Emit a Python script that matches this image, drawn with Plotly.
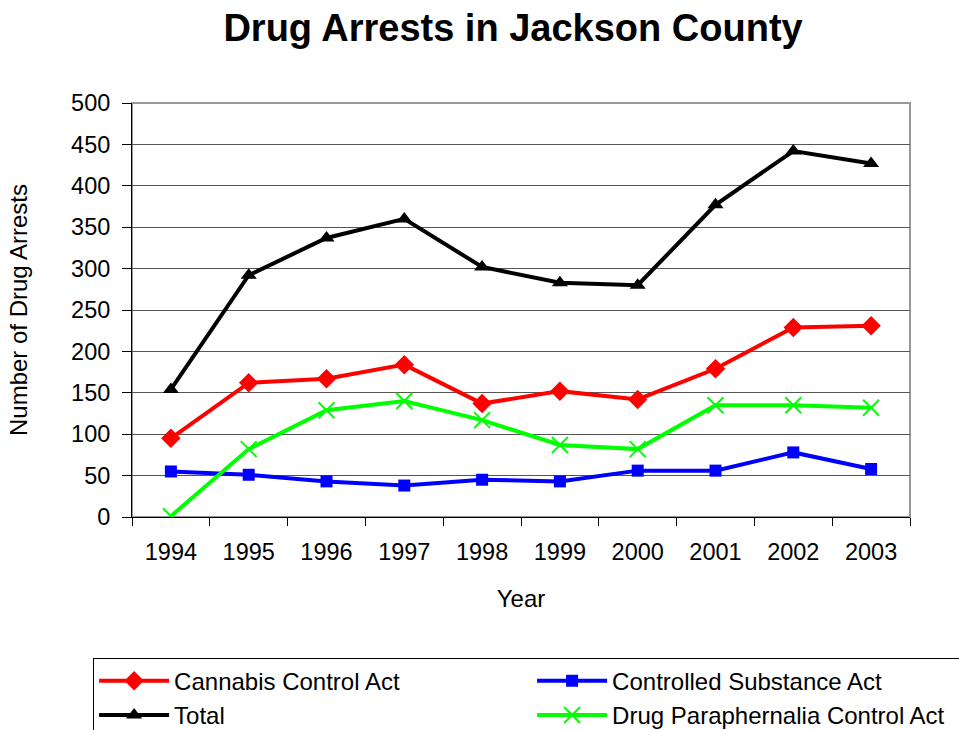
import plotly.graph_objects as go

# Drug arrests by year and statute, Jackson County
years = ["1994", "1995", "1996", "1997", "1998", "1999", "2000", "2001", "2002", "2003"]
cannabis = [95, 162, 167, 184, 137, 152, 142, 179, 229, 231]
controlled = [55, 51, 43, 38, 45, 43, 56, 56, 78, 58]
total = [154, 292, 337, 360, 302, 283, 280, 377, 442, 427]
paraphernalia = [1, 82, 129, 140, 117, 87, 82, 135, 135, 132]

FONT = "Arial, Liberation Sans, sans-serif"

fig = go.Figure()
fig.add_trace(go.Scatter(
    x=years, y=cannabis, name="Cannabis Control Act", mode="lines+markers",
    line=dict(color="#FF0000", width=4),
    marker=dict(symbol="diamond", size=15, color="#FF0000"),
))
fig.add_trace(go.Scatter(
    x=years, y=controlled, name="Controlled Substance Act", mode="lines+markers",
    line=dict(color="#0000FF", width=4),
    marker=dict(symbol="square", size=12, color="#0000FF"),
))
fig.add_trace(go.Scatter(
    x=years, y=total, name="Total", mode="lines+markers",
    line=dict(color="#000000", width=4),
    marker=dict(symbol="triangle-up", size=14, color="#000000"),
))
fig.add_trace(go.Scatter(
    x=years, y=paraphernalia, name="Drug Paraphernalia Control Act", mode="lines+markers",
    line=dict(color="#00FF00", width=4),
    marker=dict(symbol="x-thin", size=16, color="#00FF00",
                line=dict(color="#00FF00", width=2)),
))

# plot-area frame (top/right in grey)
fig.add_shape(type="rect", xref="paper", yref="paper", x0=0, x1=1, y0=0, y1=1,
              line=dict(color="#999999", width=2), layer="below")

fig.update_layout(
    width=959, height=730,
    margin=dict(l=132, r=49, t=103, b=213, autoexpand=False),
    paper_bgcolor="white", plot_bgcolor="white",
    font=dict(family=FONT, size=23, color="black"),
    title=dict(text="<b>Drug Arrests in Jackson County</b>",
               font=dict(family=FONT, size=38, color="black"),
               x=0.535, xanchor="center", xref="container",
               y=1 - 28 / 730, yanchor="middle", yref="container"),
    showlegend=True,
    legend=dict(orientation="h", x=-0.05, xanchor="left", y=-0.34, yanchor="top",
                bgcolor="white", bordercolor="black", borderwidth=1,
                itemwidth=70,
                entrywidth=353, entrywidthmode="pixels",
                font=dict(family=FONT, size=24, color="black"),
                traceorder="normal"),
)

fig.update_xaxes(
    type="category", range=[-0.5, 9.5], tickson="boundaries",
    ticks="outside", ticklen=8, tickcolor="black", tickwidth=1,
    showline=True, linecolor="black", linewidth=1,
    showgrid=False, zeroline=False,
    tickfont=dict(size=23.5), ticklabelstandoff=14,
    title=dict(text="Year", font=dict(size=24), standoff=25),
)
fig.update_yaxes(
    range=[0, 500], dtick=50, tick0=0,
    ticks="outside", ticklen=9, tickcolor="black", tickwidth=1,
    showline=True, linecolor="black", linewidth=1,
    showgrid=True, gridcolor="#555555", gridwidth=1, zeroline=False,
    tickfont=dict(size=23.5), ticklabelstandoff=7,
    title=dict(text="Number of Drug Arrests", font=dict(size=24), standoff=36),
)

fig.write_html("out.html")
